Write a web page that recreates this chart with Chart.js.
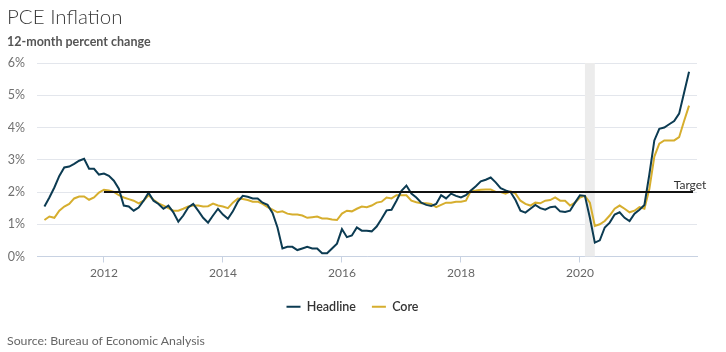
<!DOCTYPE html>
<html>
<head>
<meta charset="utf-8">
<script src="https://cdn.jsdelivr.net/npm/chart.js@4.4.1/dist/chart.umd.min.js"></script>
<style>
  html, body { margin: 0; padding: 0; background: #fff; }
  body { width: 726px; height: 352px; position: relative; overflow: hidden; font-family: Lato, "Open Sans", sans-serif; }
  #title { position: absolute; left: 7px; top: 4px; font-size: 20.5px; font-weight: 300; color: #3a3a3a; }
  #subtitle { position: absolute; left: 7px; top: 34px; font-size: 12.5px; font-weight: 700; color: #555; }
  #source { position: absolute; left: 7px; top: 333px; font-size: 12.3px; color: #666; }
  #wrap { position: absolute; left: 0; top: 0; width: 726px; height: 352px; }
</style>
</head>
<body>
<div id="wrap"><canvas id="c" width="726" height="352"></canvas></div>
<div id="title">PCE Inflation</div>
<div id="subtitle">12-month percent change</div>
<div id="source">Source: Bureau of Economic Analysis</div>
<script>
// Monthly data, Jan 2011 – Nov 2021
const startYear = 2011;
const headline = [
  // 2011
  1.55, 1.83, 2.14, 2.5, 2.76, 2.79, 2.87, 2.97, 3.03, 2.72, 2.72, 2.54,
  // 2012
  2.57, 2.5, 2.35, 2.1, 1.58, 1.55, 1.42, 1.52, 1.73, 1.98, 1.73, 1.63,
  // 2013
  1.48, 1.58, 1.37, 1.08, 1.27, 1.52, 1.63, 1.42, 1.2, 1.05, 1.27, 1.48,
  // 2014
  1.3, 1.17, 1.4, 1.7, 1.88, 1.85, 1.8, 1.8, 1.67, 1.6, 1.35, 0.9,
  // 2015
  0.25, 0.3, 0.3, 0.2, 0.25, 0.3, 0.25, 0.25, 0.1, 0.1, 0.25, 0.4,
  // 2016
  0.85, 0.6, 0.65, 0.9, 0.8, 0.8, 0.78, 0.93, 1.17, 1.43, 1.45, 1.73,
  // 2017
  2.04, 2.2, 1.95, 1.83, 1.67, 1.6, 1.57, 1.63, 1.9, 1.8, 1.95, 1.88,
  // 2018
  1.83, 1.9, 2.05, 2.18, 2.33, 2.38, 2.45, 2.3, 2.12, 2.05, 2.0, 1.75,
  // 2019
  1.42, 1.36, 1.48, 1.6, 1.5, 1.45, 1.53, 1.55, 1.4, 1.38, 1.42, 1.67,
  // 2020
  1.9, 1.88, 1.2, 0.43, 0.5, 0.9, 1.05, 1.3, 1.37, 1.2, 1.1, 1.33,
  // 2021
  1.45, 1.6, 2.55, 3.6, 3.96, 4.0, 4.1, 4.2, 4.43, 5.08, 5.73
];
const core = [
  // 2011
  1.13, 1.24, 1.2, 1.42, 1.55, 1.63, 1.8, 1.86, 1.86, 1.76, 1.83, 1.98,
  // 2012
  2.07, 2.05, 2.0, 1.9, 1.83, 1.78, 1.73, 1.65, 1.73, 1.9, 1.76, 1.65,
  // 2013
  1.58, 1.5, 1.42, 1.42, 1.48, 1.55, 1.58, 1.58, 1.55, 1.56, 1.64, 1.58,
  // 2014
  1.55, 1.5, 1.67, 1.8, 1.78, 1.75, 1.7, 1.7, 1.63, 1.53, 1.45, 1.37,
  // 2015
  1.4, 1.33, 1.3, 1.3, 1.27, 1.2, 1.22, 1.24, 1.18, 1.18, 1.15, 1.13,
  // 2016
  1.33, 1.42, 1.4, 1.48, 1.55, 1.53, 1.58, 1.67, 1.7, 1.83, 1.8, 1.9,
  // 2017
  1.9, 1.9, 1.73, 1.68, 1.65, 1.65, 1.63, 1.53, 1.6, 1.67, 1.67, 1.7,
  // 2018
  1.7, 1.73, 2.04, 2.05, 2.07, 2.08, 2.08, 2.0, 2.0, 1.95, 2.02, 1.95,
  // 2019
  1.73, 1.63, 1.58, 1.67, 1.65, 1.73, 1.75, 1.83, 1.73, 1.73, 1.58, 1.67,
  // 2020
  1.83, 1.88, 1.67, 0.95, 1.0, 1.1, 1.27, 1.48, 1.58, 1.48, 1.37, 1.42,
  // 2021
  1.53, 1.48, 2.1, 3.1, 3.5, 3.6, 3.6, 3.6, 3.7, 4.2, 4.68
];
const targetValue = 2;
const targetStart = 2012;
const targetEnd = 2021.9;
const recessionStart = 2020 + 1/12;
const recessionEnd = 2020 + 3/12;
const xTicks = [2012, 2014, 2016, 2018, 2020];
const yTicks = [0, 1, 2, 3, 4, 5, 6];

const toPoints = arr => arr.map((v, i) => ({ x: startYear + i / 12, y: v }));

const bandPlugin = {
  id: 'band',
  beforeDatasetsDraw(chart) {
    const { ctx, chartArea, scales } = chart;
    const x0 = scales.x.getPixelForValue(recessionStart);
    const x1 = scales.x.getPixelForValue(recessionEnd);
    ctx.save();
    ctx.fillStyle = '#ececec';
    ctx.fillRect(x0, chartArea.top, x1 - x0, chartArea.bottom - chartArea.top);
    ctx.restore();
  },
  afterDatasetsDraw(chart) {
    const { ctx, scales } = chart;
    const x = scales.x.getPixelForValue(targetEnd - 0.05);
    const y = scales.y.getPixelForValue(targetValue);
    ctx.save();
    ctx.font = '12px Lato, "Open Sans", sans-serif';
    ctx.fillStyle = '#333';
    ctx.textAlign = 'center';
    ctx.textBaseline = 'bottom';
    ctx.fillText('Target', x, y - 1);
    ctx.restore();
  }
};

new Chart(document.getElementById('c'), {
  type: 'line',
  data: {
    datasets: [
      {
        label: 'Headline',
        data: toPoints(headline),
        borderColor: '#0c3b52',
        backgroundColor: '#0c3b52',
        borderWidth: 2,
        pointRadius: 0,
        tension: 0,
        order: 2
      },
      {
        label: 'Core',
        data: toPoints(core),
        borderColor: '#d6ae2e',
        backgroundColor: '#d6ae2e',
        borderWidth: 2,
        pointRadius: 0,
        tension: 0,
        order: 3
      },
      {
        label: 'Target',
        data: [{ x: targetStart, y: targetValue }, { x: targetEnd, y: targetValue }],
        borderColor: '#111',
        borderWidth: 2,
        pointRadius: 0,
        order: 1
      }
    ]
  },
  plugins: [bandPlugin],
  options: {
    responsive: false,
    animation: false,
    devicePixelRatio: 1,
    layout: { padding: { left: 8, right: 29, top: 63, bottom: 29 } },
    plugins: {
      legend: {
        position: 'bottom',
        labels: {
          filter: item => item.text !== 'Target',
          usePointStyle: true,
          pointStyle: 'line',
          pointStyleWidth: 14,
          boxHeight: 12,
          padding: 16,
          color: '#333',
          font: { family: 'Lato, "Open Sans", sans-serif', size: 12.5, weight: '600' }
        }
      },
      tooltip: { enabled: false }
    },
    scales: {
      x: {
        type: 'linear',
        min: 2010.875,
        max: 2021.967,
        afterBuildTicks: s => { s.ticks = xTicks.map(v => ({ value: v })); },
        afterFit: s => { s.height = 28; },
        ticks: {
          callback: v => String(v),
          color: '#666',
          padding: 3,
          maxRotation: 0,
          font: { family: 'Lato, "Open Sans", sans-serif', size: 12 }
        },
        grid: {
          drawOnChartArea: false,
          drawTicks: true,
          tickLength: 6,
          color: '#c8d2e2'
        },
        border: { display: true, color: '#c8d2e2', width: 1 }
      },
      y: {
        min: 0,
        max: 6,
        afterBuildTicks: s => { s.ticks = yTicks.map(v => ({ value: v })); },
        afterFit: s => { s.width = 29; },
        ticks: {
          callback: v => v + '%',
          color: '#707070',
          padding: 12,
          font: { family: 'Lato, "Open Sans", sans-serif', size: 12.5 }
        },
        grid: { drawTicks: false, color: '#e3e6ec' },
        border: { display: false }
      }
    }
  }
});
</script>
</body>
</html>
